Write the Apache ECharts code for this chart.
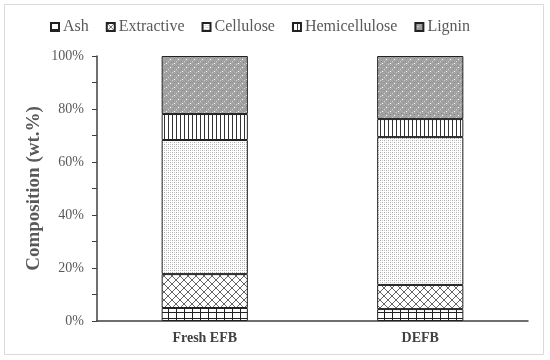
<!DOCTYPE html>
<html><head><meta charset="utf-8">
<script src="https://cdn.jsdelivr.net/npm/echarts@6/dist/echarts.min.js"></script>
<style>html,body{margin:0;padding:0;background:#fff}#c{width:550px;height:360px}</style>
</head><body><div id="c"></div>
<script>
const categories = ['Fresh EFB', 'DEFB'];
const seriesNames = ['Ash', 'Extractive', 'Cellulose', 'Hemicellulose', 'Lignin'];
const ash = [4.9, 4.5];
const extractive = [12.8, 9.1];
const cellulose = [50.6, 55.8];
const hemicellulose = [9.8, 6.8];
const lignin = [21.9, 23.8];
const yTicks = [0, 20, 40, 60, 80, 100];

function tile(w, h, draw) {
  const c = document.createElement('canvas');
  c.width = w; c.height = h;
  const g = c.getContext('2d');
  g.fillStyle = '#fff'; g.fillRect(0, 0, w, h);
  draw(g, w, h);
  return { image: c, repeat: 'repeat' };
}
const patAsh = tile(8, 6, (g, w, h) => {
  g.fillStyle = '#222'; g.fillRect(0, 0, 1, h); g.fillRect(0, 0, w, 1);
});
const patExt = tile(8, 8, (g, w, h) => {
  g.strokeStyle = '#666'; g.lineWidth = 1;
  g.beginPath(); g.moveTo(0, 0); g.lineTo(8, 8); g.moveTo(8, 0); g.lineTo(0, 8); g.stroke();
});
const patCel = tile(4, 4, (g) => {
  g.fillStyle = '#a8a8a8'; g.fillRect(0, 0, 1, 1); g.fillRect(2, 2, 1, 1);
  g.fillStyle = '#d0d0d0'; g.fillRect(2, 0, 1, 1); g.fillRect(0, 2, 1, 1);
});
const patHemi = tile(4, 4, (g, w, h) => {
  g.fillStyle = '#333'; g.fillRect(0, 0, 1, h);
});
const patLig = tile(8, 8, (g, w, h) => {
  g.fillStyle = '#a3a3a3'; g.fillRect(0, 0, w, h);
  g.fillStyle = '#8a8a8a'; g.fillRect(1, 1, 1, 1); g.fillRect(5, 5, 1, 1); g.fillRect(3, 6, 1, 1); g.fillRect(6, 2, 1, 1);
  g.fillStyle = '#ffffff'; g.fillRect(2, 3, 1, 1); g.fillRect(6, 7, 1, 1);
  g.fillStyle = '#d0d0d0'; g.fillRect(4, 0, 1, 1); g.fillRect(0, 5, 1, 1);
});
const patterns = [patAsh, patExt, patCel, patHemi, patLig];
const values = [ash, extractive, cellulose, hemicellulose, lignin];

const chart = echarts.init(document.getElementById('c'), null, { renderer: 'canvas' });
chart.setOption({
  animation: false,
  backgroundColor: '#fff',
  textStyle: { fontFamily: 'Liberation Serif' },
  graphic: [{
    type: 'rect', shape: { x: 4.5, y: 4.5, width: 539, height: 350 },
    style: { fill: null, stroke: '#d9d9d9', lineWidth: 1 }, silent: true, z: -1
  }],
  legend: {
    top: 14, left: 45,
    itemWidth: 8, itemHeight: 8, itemGap: 17,
    icon: 'rect',
    textStyle: { fontFamily: 'Liberation Serif', fontSize: 16, color: '#595959', padding: [0, 0, 0, -1] },
    data: seriesNames
  },
  grid: { left: 97, right: 22, top: 56, bottom: 39 },
  xAxis: {
    type: 'category', data: categories,
    axisLine: { lineStyle: { color: '#404040', width: 1.5 } },
    axisTick: { show: false },
    axisLabel: { fontFamily: 'Liberation Serif', fontWeight: 'bold', fontSize: 14, color: '#404040', margin: 10 }
  },
  yAxis: {
    type: 'value', min: 0, max: 100, interval: 10,
    name: 'Composition (wt.%)', nameLocation: 'middle', nameGap: 53, nameMoveOverlap: false,
    nameTextStyle: { fontFamily: 'Liberation Serif', fontWeight: 'bold', fontSize: 19, color: '#595959' },
    axisLine: { show: true, lineStyle: { color: '#404040', width: 1.5 } },
    axisTick: { show: true, length: 5, lineStyle: { color: '#404040' } },
    splitLine: { show: false },
    axisLabel: {
      fontFamily: 'Liberation Serif', fontSize: 14, color: '#595959', margin: 13,
      formatter: v => yTicks.indexOf(v) >= 0 ? v + '%' : ''
    }
  },
  series: seriesNames.map((n, i) => ({
    name: n, type: 'bar', stack: 'total', barWidth: '40%',
    data: values[i],
    itemStyle: { color: patterns[i], borderColor: '#222', borderWidth: 1 }
  }))
});
</script></body></html>
